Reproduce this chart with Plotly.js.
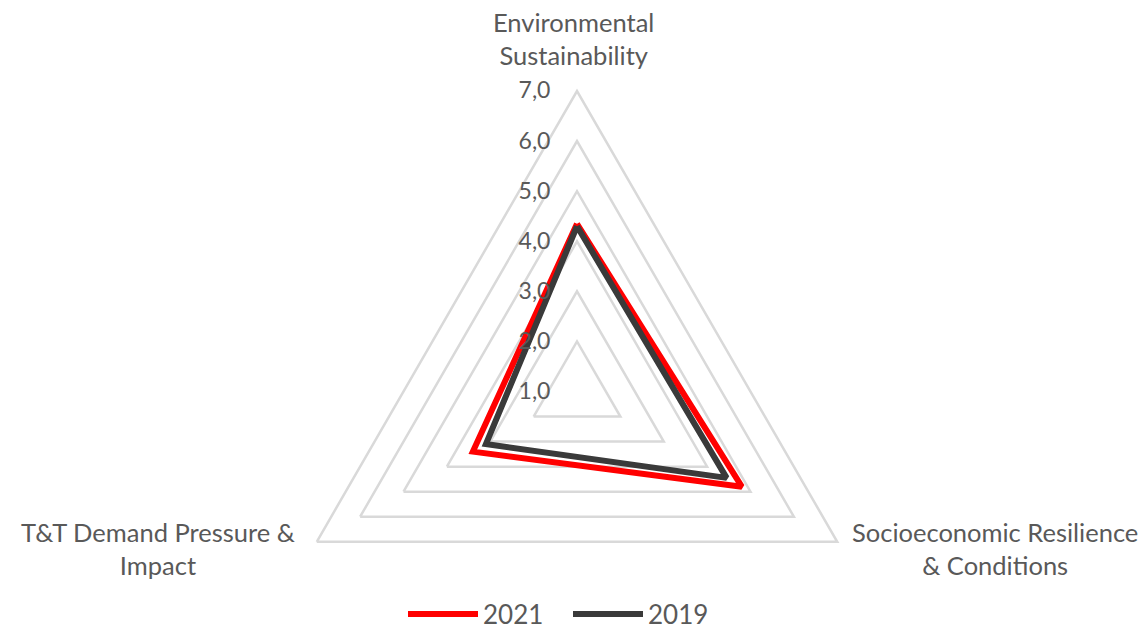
<!DOCTYPE html>
<html>
<head>
<meta charset="utf-8">
<script src="https://cdn.plot.ly/plotly-3.0.1.min.js"></script>
<style>
html,body{margin:0;padding:0;overflow:hidden;background:#fff;}
#chart{width:1147px;height:720px;}
</style>
</head>
<body>
<div id="chart"></div>
<script>
// Data
var categories = ["Environmental Sustainability", "Socioeconomic Resilience & Conditions", "T&T Demand Pressure & Impact"];
var categoryLabels = ["Environmental<br>Sustainability", "Socioeconomic Resilience<br>& Conditions", "T&T Demand Pressure &<br>Impact"];
var seriesNames = ["2021", "2019"];
var values2021 = [4.35, 4.8, 3.4];
var values2019 = [4.3, 4.45, 3.1];
var radialTicks = [1, 2, 3, 4, 5, 6, 7];

var W = 1147, H = 720;
var cx = 577, cy = 391.5, R = 300.5;

function closeLoop(a){ return a.concat([a[0]]); }

var traces = [
  {
    type: 'scatterpolar', mode: 'lines', name: seriesNames[0],
    r: closeLoop(values2021), theta: closeLoop(categories),
    line: {color: '#FF0000', width: 6, shape: 'linear'},
    hoverinfo: 'skip'
  },
  {
    type: 'scatterpolar', mode: 'lines', name: seriesNames[1],
    r: closeLoop(values2019), theta: closeLoop(categories),
    line: {color: '#3A3A3A', width: 6, shape: 'linear'},
    hoverinfo: 'skip'
  }
];

var labelPos = [
  {x: 573, y: 38},
  {x: 995, y: 548},
  {x: 158, y: 548}
];

var annotations = categoryLabels.map(function(t, i){
  return {
    xref: 'paper', yref: 'paper',
    x: labelPos[i].x / W, y: 1 - labelPos[i].y / H,
    xanchor: 'center', yanchor: 'middle',
    text: t, showarrow: false, align: 'center',
    font: {family: 'Lato, sans-serif', size: 25.5, color: '#595959'}
  };
});

var layout = {
  width: W, height: H,
  margin: {l: 0, r: 0, t: 0, b: 0},
  paper_bgcolor: '#fff',
  separators: ',.',
  showlegend: true,
  legend: {
    orientation: 'h', x: 403 / W, y: 1 - 614 / H,
    xanchor: 'left', yanchor: 'middle',
    font: {family: 'Lato, sans-serif', size: 26, color: '#595959'},
    traceorder: 'normal', itemwidth: 70, bgcolor: 'rgba(0,0,0,0)',
    entrywidth: 80, entrywidthmode: 'pixels'
  },
  polar: {
    domain: {x: [(cx - R) / W, (cx + R) / W], y: [1 - (cy + R) / H, 1 - (cy - R) / H]},
    bgcolor: '#fff',
    gridshape: 'linear',
    angularaxis: {
      direction: 'clockwise', rotation: 90,
      showgrid: false, showticklabels: false, ticks: '',
      showline: true, linecolor: '#D9D9D9', linewidth: 2.5
    },
    radialaxis: {
      range: [1, 7], angle: 90, side: 'counterclockwise',
      tickvals: radialTicks, tickformat: '.1f',
      showgrid: true, gridcolor: '#D9D9D9', gridwidth: 2.5,
      showline: false, ticks: 'outside', ticklen: 18, tickcolor: 'rgba(0,0,0,0)',
      tickangle: 90,
      tickfont: {family: 'Lato, sans-serif', size: 23, color: '#595959'}
    }
  },
  annotations: annotations
};

Plotly.newPlot('chart', traces, layout, {displayModeBar: false, staticPlot: true});
</script>
</body>
</html>
